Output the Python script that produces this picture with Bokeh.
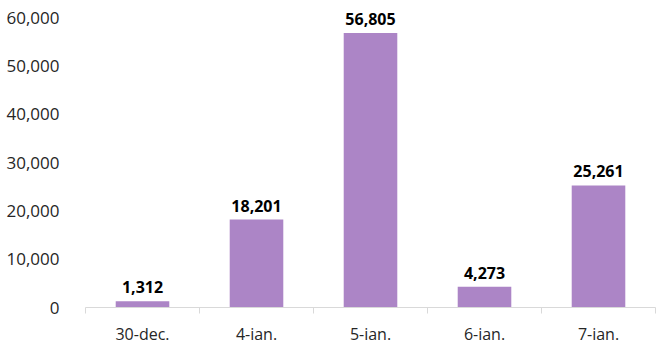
from bokeh.plotting import figure
from bokeh.models import Range1d, FixedTicker, NumeralTickFormatter, ColumnDataSource
from bokeh.core.properties import value
from bokeh.embed import file_html
from bokeh.resources import INLINE

categories = ["30-dec.", "4-ian.", "5-ian.", "6-ian.", "7-ian."]
values = [1312, 18201, 56805, 4273, 25261]
y_ticks = [0, 10000, 20000, 30000, 40000, 50000, 60000]

x_centers = [i + 0.5 for i in range(len(categories))]
x_bounds = list(range(len(categories) + 1))
labels = [f"{v:,}" for v in values]

src = ColumnDataSource(dict(x=x_centers, top=values, label=labels))

p = figure(width=661, height=349, output_backend="svg", toolbar_location=None,
           x_range=Range1d(0, len(categories)), y_range=Range1d(0, 62069),
           min_border_left=85, min_border_right=6, min_border_top=7, min_border_bottom=42)
p.outline_line_color = None
p.xgrid.visible = False
p.ygrid.visible = False
p.background_fill_color = "white"
p.border_fill_color = "white"

p.vbar(x="x", top="top", width=0.47, source=src, fill_color="#AC85C6", line_color=None)

p.text(x="x", y="top", text="label", source=src, text_align="center", text_baseline="alphabetic",
       y_offset=-14, text_font=value("Open Sans"), text_font_style="bold", text_font_size="16px",
       text_color="#000000")

font = "Open Sans"
ax = p.xaxis[0]
ax.ticker = FixedTicker(ticks=x_centers, minor_ticks=x_bounds)
ax.major_label_overrides = {x: c for x, c in zip(x_centers, categories)}
ax.major_tick_out = 0
ax.major_tick_in = 0
ax.minor_tick_out = 6
ax.minor_tick_in = 0
ax.minor_tick_line_color = "#d9d9d9"
ax.axis_line_color = "#d9d9d9"
ax.axis_line_width = 1
ax.major_label_text_font = font
ax.major_label_text_font_size = "16px"
ax.major_label_text_color = "#262626"
ax.major_label_standoff = 9

ay = p.yaxis[0]
ay.ticker = FixedTicker(ticks=y_ticks, minor_ticks=[])
ay.formatter = NumeralTickFormatter(format="0,0")
ay.axis_line_color = None
ay.major_tick_line_color = None
ay.minor_tick_line_color = None
ay.major_label_text_font = font
ay.major_label_text_font_size = "17px"
ay.major_label_text_color = "#262626"
ay.major_label_standoff = 20

open("out.html", "w").write(file_html(p, INLINE))
